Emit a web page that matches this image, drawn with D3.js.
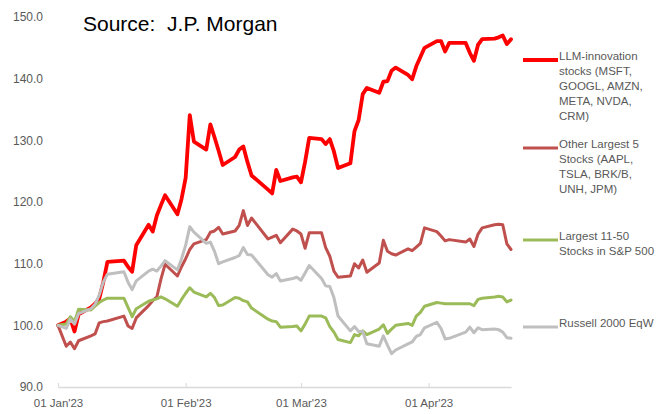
<!DOCTYPE html>
<html>
<head>
<meta charset="utf-8">
<script src="https://cdn.jsdelivr.net/npm/d3@7"></script>
<style>
body { margin: 0; background: #fff; }
svg { display: block; font-family: "Liberation Sans", Arial, sans-serif; }
.axis text { fill: #595959; font-size: 11.5px; }
.axis--x path, .axis--x line { stroke: #d9d9d9; }
.axis--y path, .axis--y line { display: none; }
.line { fill: none; stroke-linejoin: round; stroke-linecap: round; }
.legend text { fill: #595959; font-size: 11.5px; }
.title { white-space: pre; }
</style>
</head>
<body>
<div id="chartdiv"></div>
<script>
/*jslint browser, multivar, white, fudge */
/*global d3 */

//trading days, first point is the rebase date
var dates = [
    "2023-01-01","2023-01-03","2023-01-04","2023-01-05","2023-01-06","2023-01-09","2023-01-10",
    "2023-01-11","2023-01-12","2023-01-13","2023-01-17","2023-01-18","2023-01-19","2023-01-20",
    "2023-01-23","2023-01-24","2023-01-25","2023-01-26","2023-01-27","2023-01-30","2023-01-31",
    "2023-02-01","2023-02-02","2023-02-03","2023-02-06","2023-02-07","2023-02-08","2023-02-09",
    "2023-02-10","2023-02-13","2023-02-14","2023-02-15","2023-02-16","2023-02-17","2023-02-21",
    "2023-02-22","2023-02-23","2023-02-24","2023-02-27","2023-02-28",
    "2023-03-01","2023-03-02","2023-03-03","2023-03-06","2023-03-07","2023-03-08","2023-03-09",
    "2023-03-10","2023-03-13","2023-03-14","2023-03-15","2023-03-16","2023-03-17","2023-03-20",
    "2023-03-21","2023-03-22","2023-03-23","2023-03-24","2023-03-27","2023-03-28","2023-03-29",
    "2023-03-30","2023-03-31",
    "2023-04-03","2023-04-04","2023-04-05","2023-04-06","2023-04-10","2023-04-11","2023-04-12",
    "2023-04-13","2023-04-14","2023-04-17","2023-04-18","2023-04-19","2023-04-20","2023-04-21"];

var llmStocks = [
    100.0, 100.6, 101.1, 99.0, 101.8, 102.9, 103.5, 104.3, 107.0, 110.3, 110.5, 109.5, 108.7, 113.0,
    116.3, 115.2, 117.8, 119.5, 121.1, 118.0, 120.5,
    123.9, 134.1, 129.8, 128.5, 132.6, 130.5, 128.3, 126.0, 127.3, 128.5, 129.0, 126.5, 124.3, 122.0,
    121.4, 125.2, 123.4, 124.0, 124.1,
    123.2, 126.5, 130.4, 130.2, 129.4, 130.2, 128.2, 125.5, 126.3, 131.5, 133.3, 137.5, 138.5, 137.7,
    139.5, 139.6, 141.3, 141.8, 140.6, 139.9, 142.0, 143.5, 145.0,
    146.1, 146.1, 144.4, 145.8, 145.8, 144.2, 142.9, 145.5, 146.4, 146.5, 146.7, 147.0, 145.6, 146.4];

var otherTop5 = [
    100.0, 96.6, 97.3, 96.2, 97.5, 98.3, 98.6, 100.4, 100.6, 100.7, 101.5, 99.9, 99.5, 101.2,
    103.2, 104.0, 104.6, 107.5, 109.9, 108.0, 109.5,
    110.8, 112.3, 113.2, 113.9, 115.1, 115.3, 115.9, 114.8, 115.3, 116.2, 118.6, 116.2, 117.4, 114.0,
    114.3, 114.6, 113.4, 115.6, 115.3,
    114.8, 112.5, 115.0, 115.0, 112.6, 111.2, 108.8, 107.8, 108.0, 110.0, 109.3, 110.6, 108.6, 110.1,
    113.8, 112.0, 111.6, 111.4, 112.4, 112.1, 112.7, 113.3, 115.8,
    115.2, 114.5, 113.7, 113.9, 113.5, 114.0, 112.8, 114.8, 115.8, 116.3, 116.4, 116.3, 113.2, 112.3];

var largest1150 = [
    100.0, 100.2, 101.4, 100.6, 102.6, 102.5, 103.1, 103.7, 104.1, 104.4, 104.4, 102.9, 101.4, 102.7,
    103.9, 104.1, 104.3, 104.6, 104.3, 103.1, 104.2,
    105.2, 106.1, 105.4, 104.6, 105.2, 104.5, 103.2, 103.3, 104.5, 104.4, 104.0, 103.8, 102.8, 101.0,
    100.7, 100.6, 99.7, 99.8, 99.9,
    99.1, 100.2, 101.5, 101.5, 101.2, 99.8, 98.9, 97.7, 97.2, 98.5, 98.3, 99.1, 98.5, 99.4,
    100.1, 98.7, 99.4, 100.0, 100.3, 100.0, 101.5, 102.1, 103.1,
    103.7, 103.6, 103.5, 103.5, 103.5, 103.5, 103.2, 104.2, 104.4, 104.6, 104.7, 104.6, 103.8, 104.1];

var russell2000 = [
    100.0, 99.5, 101.0, 100.2, 101.9, 102.7, 103.4, 104.9, 107.0, 108.3, 108.7, 107.0, 105.8, 107.2,
    108.8, 109.1, 108.8, 109.6, 110.5, 109.0, 110.8,
    113.0, 116.0, 115.1, 113.3, 113.5, 112.0, 110.0, 110.3, 111.0, 111.3, 112.6, 111.5, 111.4, 108.2,
    107.8, 108.4, 107.2, 107.6, 107.8,
    107.3, 108.5, 109.7, 107.6, 106.4, 106.3, 104.5, 101.5, 99.1, 99.8, 99.0, 99.0, 97.0, 96.6,
    98.3, 96.8, 95.4, 96.0, 97.0, 97.3, 98.2, 98.5, 99.6,
    100.5, 99.5, 97.8, 97.9, 98.9, 99.7, 98.8, 99.6, 99.3, 99.4, 99.3, 98.9, 98.0, 97.9];

var seriesNames = [
    ["LLM-innovation", "stocks (MSFT,", "GOOGL, AMZN,", "META, NVDA,", "CRM)"],
    ["Other Largest 5", "Stocks (AAPL,", "TSLA, BRK/B,", "UNH, JPM)"],
    ["Largest 11-50", "Stocks in S&P 500"],
    ["Russell 2000 EqW"]];

var xTickDates = ["2023-01-01", "2023-02-01", "2023-03-01", "2023-04-01"];
var xTickLabels = ["01 Jan'23", "01 Feb'23", "01 Mar'23", "01 Apr'23"];
var yTicks = [90, 100, 110, 120, 130, 140, 150];

var chart = (function () {
    "use strict";

    var ch; //chart state

    function drawLines () {
        ch.series.forEach(function (s) {
            ch.plot.append("path")
                .datum(s.vals)
                .attr("class", "line")
                .attr("stroke", s.color)
                .attr("stroke-width", s.width)
                .attr("d", ch.line);
        });
    }

    function drawAxes () {
        ch.svg.append("g")
            .attr("class", "axis axis--x")
            .attr("transform", "translate(0," + ch.y(90) + ")")
            .call(d3.axisBottom(ch.x)
                .tickValues(xTickDates.map(ch.parse))
                .tickSizeInner(-4)
                .tickSizeOuter(0)
                .tickPadding(12)
                .tickFormat(function (d, i) { return xTickLabels[i]; }))
            .select(".domain").attr("stroke-width", 1.5);
        ch.svg.append("g")
            .attr("class", "axis axis--y")
            .attr("transform", "translate(43,0)")
            .call(d3.axisLeft(ch.y)
                .tickValues(yTicks)
                .tickSize(0)
                .tickPadding(0)
                .tickFormat(d3.format(".1f")))
            .selectAll("text").style("font-size", "12px");
    }

    function drawLegend () {
        var leg = ch.svg.append("g").attr("class", "legend"),
            tops = [60, 148, 240, 327];
        ch.series.forEach(function (s, i) {
            leg.append("line")
                .attr("x1", 523).attr("x2", 558)
                .attr("y1", tops[i]).attr("y2", tops[i])
                .attr("stroke", s.color)
                .attr("stroke-width", s.width);
            leg.append("text")
                .attr("x", 559)
                .attr("y", tops[i])
                .attr("dy", "0.35em")
                .selectAll("tspan")
                .data(seriesNames[i])
                .enter().append("tspan")
                .attr("x", 559)
                .attr("dy", function (d, j) { return j === 0 ? 0 : 15; })
                .text(function (d) { return d; });
        });
    }

    function display () {
        ch = {parse: d3.utcParse("%Y-%m-%d")};
        ch.svg = d3.select("#chartdiv").append("svg")
            .attr("width", 666)
            .attr("height", 414);
        ch.pts = dates.map(ch.parse);
        ch.x = d3.scaleUtc()
            .domain([ch.pts[0], ch.pts[ch.pts.length - 1]])
            .range([58, 511]);
        ch.y = d3.scaleLinear().domain([90, 150]).range([387, 17]);
        ch.series = [
            {vals: llmStocks, color: "#ff0000", width: 3.8},
            {vals: otherTop5, color: "#c0504d", width: 3},
            {vals: largest1150, color: "#9bbb59", width: 3},
            {vals: russell2000, color: "#bfbfbf", width: 3}];
        ch.line = d3.line()
            .x(function (d, i) { return ch.x(ch.pts[i]); })
            .y(function (d) { return ch.y(d); });
        drawAxes();
        ch.plot = ch.svg.append("g").attr("class", "plot");
        drawLines();
        drawLegend();
        ch.svg.append("text")
            .attr("class", "title")
            .attr("x", 83)
            .attr("y", 31)
            .attr("fill", "#000")
            .style("font-size", "21px")
            .text("Source:  J.P. Morgan");
    }

    return {
        display: function () { display(); }
    };
}());

chart.display();
</script>
</body>
</html>
